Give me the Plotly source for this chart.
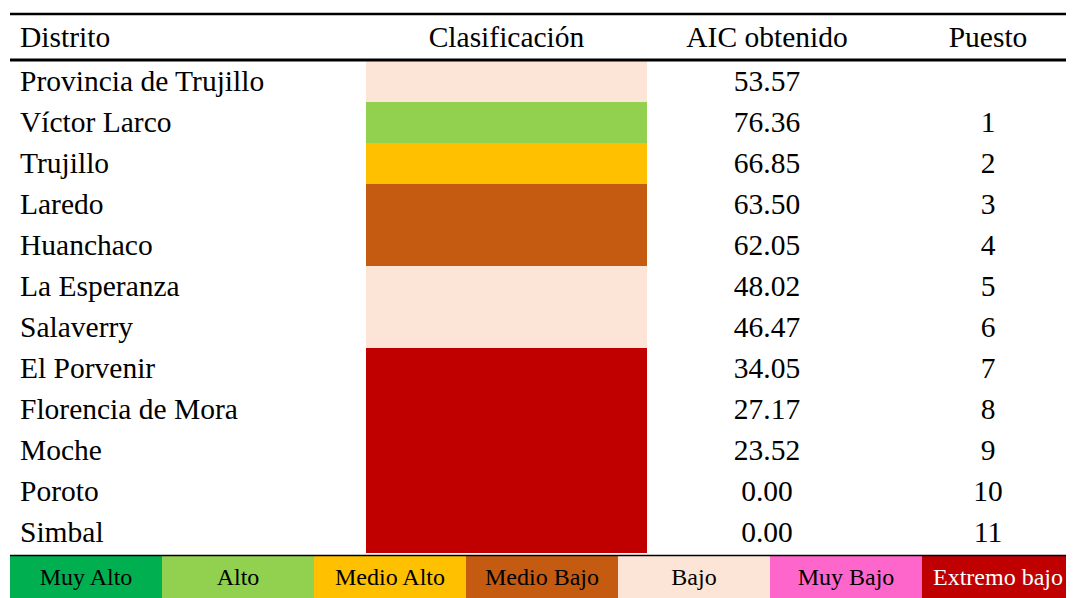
import plotly.graph_objects as go

# ---- data ----
distritos = ["Provincia de Trujillo", "Víctor Larco", "Trujillo", "Laredo", "Huanchaco",
             "La Esperanza", "Salaverry", "El Porvenir", "Florencia de Mora", "Moche",
             "Poroto", "Simbal"]
clasificacion = ["Bajo", "Alto", "Medio Alto", "Medio Bajo", "Medio Bajo",
                 "Bajo", "Bajo", "Extremo bajo", "Extremo bajo", "Extremo bajo",
                 "Extremo bajo", "Extremo bajo"]
aic = ["53.57", "76.36", "66.85", "63.50", "62.05", "48.02", "46.47",
       "34.05", "27.17", "23.52", "0.00", "0.00"]
puesto = ["", "1", "2", "3", "4", "5", "6", "7", "8", "9", "10", "11"]
headers = ["Distrito", "Clasificación", "AIC obtenido", "Puesto"]
categorias = ["Muy Alto", "Alto", "Medio Alto", "Medio Bajo", "Bajo", "Muy Bajo", "Extremo bajo"]
colores = ["#00B050", "#92D050", "#FFC000", "#C55A11", "#FCE4D6", "#FF66CC", "#C00000"]
texto_leyenda = ["black", "black", "black", "black", "black", "black", "white"]

# ---- layout constants (page-pixel axis units) ----
W, H = 1074, 598
PAD = 8                      # default page body margin
row0, row_h = 81.5, 41.0
text_dy = 2
header_y = 40
x_dist = 20
x_clas0, x_clas1 = 366, 647
x_aic = 767
x_puesto = 988
x_left = 10
leg_w_each = 152
leg_y0, leg_y1 = 556, 598
FONT = "Liberation Serif, Times New Roman, serif"
cmap = dict(zip(categorias, colores))

rows_y = [row0 + i * row_h for i in range(len(distritos))]
rows_ty = [y + text_dy for y in rows_y]

fig = go.Figure()

# classification cells
fig.add_trace(go.Bar(
    orientation="h", y=rows_y, x=[x_clas1 - x_clas0] * len(rows_y), base=x_clas0,
    width=row_h, marker=dict(color=[cmap[c] for c in clasificacion], line=dict(width=0)),
    hoverinfo="skip", showlegend=False))

# legend boxes
leg_edges = [x_left + i * leg_w_each for i in range(len(categorias) + 1)]
leg_c = [(leg_edges[i] + leg_edges[i + 1]) / 2 for i in range(len(categorias))]
fig.add_trace(go.Bar(
    orientation="h", y=[(leg_y0 + leg_y1) / 2] * len(categorias), x=[leg_w_each] * len(categorias),
    base=leg_edges[:-1], width=leg_y1 - leg_y0,
    marker=dict(color=colores, line=dict(width=0)), hoverinfo="skip", showlegend=False))

# table text
txt = dict(family=FONT, size=29.5, color="black")
fig.add_trace(go.Scatter(x=[x_dist] * len(distritos), y=rows_ty, text=distritos, mode="text",
                         textposition="middle right", textfont=txt, showlegend=False, hoverinfo="skip"))
fig.add_trace(go.Scatter(x=[x_aic] * len(aic), y=rows_ty, text=aic, mode="text",
                         textposition="middle center", textfont=txt, showlegend=False, hoverinfo="skip"))
fig.add_trace(go.Scatter(x=[x_puesto] * len(puesto), y=rows_ty, text=puesto, mode="text",
                         textposition="middle center", textfont=txt, showlegend=False, hoverinfo="skip"))
# headers
fig.add_trace(go.Scatter(x=[x_dist], y=[header_y], text=[headers[0]], mode="text",
                         textposition="middle right", textfont=txt, showlegend=False, hoverinfo="skip"))
fig.add_trace(go.Scatter(x=[(x_clas0 + x_clas1) / 2, x_aic, x_puesto], y=[header_y] * 3,
                         text=headers[1:], mode="text", textposition="middle center",
                         textfont=txt, showlegend=False, hoverinfo="skip"))
# legend labels
fig.add_trace(go.Scatter(x=leg_c, y=[(leg_y0 + leg_y1) / 2 + text_dy] * len(categorias), text=categorias,
                         mode="text", textposition="middle center",
                         textfont=dict(family=FONT, size=24, color=texto_leyenda),
                         showlegend=False, hoverinfo="skip"))

# rules
for y, w in [(14, 2.5), (60, 3.0), (555.5, 1.5)]:
    fig.add_shape(type="line", x0=x_left, x1=W, y0=y, y1=y, xref="x", yref="y",
                  line=dict(color="black", width=w))

fig.update_layout(
    width=W - PAD, height=H - PAD, margin=dict(l=0, r=0, t=0, b=0),
    paper_bgcolor="white", plot_bgcolor="white", barmode="overlay",
    xaxis=dict(range=[PAD, W], visible=False, fixedrange=True),
    yaxis=dict(range=[H, PAD], visible=False, fixedrange=True),
)

fig.write_html("out.html")
